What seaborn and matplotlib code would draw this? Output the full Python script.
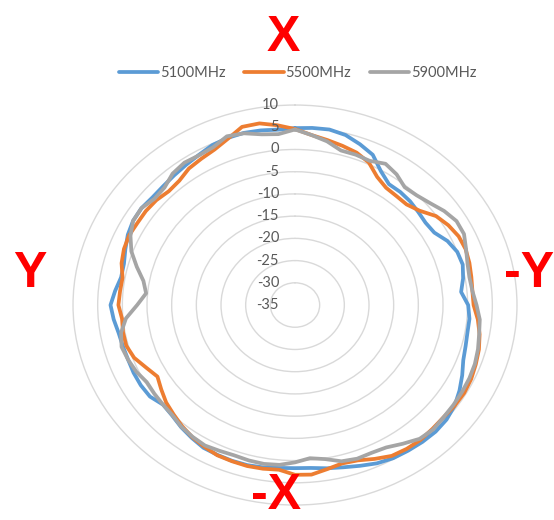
import numpy as np
import pandas as pd
import matplotlib
matplotlib.use('Agg')
import matplotlib.pyplot as plt
import matplotlib.transforms as mtransforms
from matplotlib.lines import Line2D
import seaborn as sns

# angle of each measurement (deg, clockwise from X) and gain in dBi
angles = list(range(0, 360, 5))
gain_5100 = [4.8, 5.0, 5.1, 4.6, 3.5, 2.3, -0.2, -1.8, -1.8, -2.0, -2.4, -2.7,
             -2.4, -0.9, 0.0, 0.2, -0.4, -1.2, 0.1, 0.5, 0.5, 0.8, 1.3, 2.4,
             3.5, 4.5, 5.1, 5.3, 5.2, 5.0, 4.8, 4.3, 3.5, 2.8, 2.3, 1.8,
             1.7, 1.8, 2.1, 2.3, 2.3, 2.2, 2.1, 1.5, 0.9, 0.2, -0.1, 0.9,
             1.1, 1.1, 1.0, 1.1, 1.3, 1.9, 2.4, 1.6, 0.8, 0.9, 1.6, 2.4,
             2.9, 3.0, 2.7, 2.8, 3.1, 3.5, 4.0, 4.7, 5.0, 5.1, 4.9, 4.6]
gain_5500 = [4.6, 3.4, 2.7, 2.1, 1.5, 0.4, -1.7, -2.8, -3.0, -3.0, -2.0, -0.1,
             0.9, 1.6, 1.8, 1.6, 1.3, 1.1, 1.2, 2.2, 3.0, 3.6, 4.0, 4.4,
             4.6, 4.5, 4.3, 4.4, 4.6, 4.5, 4.2, 3.2, 2.2, 1.9, 2.5, 3.3,
             3.2, 2.2, 2.4, 2.5, 2.4, 2.3, 1.8, 1.3, 0.6, -0.2, -0.9, -1.9,
             -2.8, -1.7, -0.3, 0.4, 0.4, 0.2, 0.8, 0.6, 0.5, 1.4, 1.9, 2.1,
             1.9, 1.9, 1.7, 1.2, 1.5, 2.5, 3.0, 3.6, 4.8, 6.5, 6.5, 5.6]
gain_5900 = [4.5, 3.4, 2.4, 1.0, 1.0, 0.8, 1.7, 0.9, -0.4, -0.1, 0.7, 1.9,
             2.8, 2.8, 1.9, 1.2, 0.9, 1.1, 1.8, 2.6, 2.9, 3.4, 3.8, 4.0,
             4.1, 4.2, 4.3, 4.6, 4.3, 3.1, 2.0, 1.7, 1.8, 1.4, 0.2, -0.4,
             0.4, 1.1, 1.3, 1.2, 1.0, 1.2, 1.5, 1.2, 0.8, 0.1, -0.1, -0.2,
             -0.3, 0.5, 1.0, 1.4, 0.8, -0.6, -3.0, -4.7, -3.8, -1.8, 0.3, 1.8,
             2.9, 3.0, 2.2, 2.4, 3.6, 4.1, 3.9, 4.2, 5.4, 5.0, 4.0, 3.6]

freqs = ['5100MHz', '5500MHz', '5900MHz']
colors = ['#5B9BD5', '#ED7D31', '#A5A5A5']
r_ticks = [10, 5, 0, -5, -10, -15, -20, -25, -30, -35]

rows = []
for f, vals in zip(freqs, [gain_5100, gain_5500, gain_5900]):
    # close the loop back to the first angle
    for a, v in zip(angles + [360], vals + vals[:1]):
        rows.append({'theta': np.deg2rad(a), 'gain': v, 'freq': f})
df = pd.DataFrame(rows)

sns.set_theme(style='white')
plt.rcParams['font.family'] = ['Lato', 'DejaVu Sans']

fig = plt.figure(figsize=(5.54, 5.2), dpi=100)
ax = fig.add_axes([0.1318, 0.0288, 0.8014, 0.7692], projection='polar')
ax.set_aspect('auto')
ax.set_theta_zero_location('N')
ax.set_theta_direction(-1)

sns.lineplot(data=df, x='theta', y='gain', hue='freq', palette=colors,
             sort=False, estimator=None, lw=2.7, legend=False, ax=ax)

ax.set_ylim(-35, 10)
ax.set_yticks([t for t in r_ticks if -35 < t < 10])
ax.set_yticklabels([])
ax.set_xticks([])
ax.yaxis.grid(True, color='#D9D9D9', lw=1)
ax.spines['polar'].set_color('#D9D9D9')
ax.spines['polar'].set_linewidth(1)
ax.set_xlabel('')
ax.set_ylabel('')

off = mtransforms.offset_copy(ax.transData, fig=fig, x=-16, y=0, units='dots')
for t in r_ticks:
    ax.text(0, t, str(t), transform=off, ha='right', va='center',
            fontsize=10.5, color='#595959')

handles = [Line2D([], [], color=c, lw=2.7) for c in colors]
fig.legend(handles, freqs, loc='center', bbox_to_anchor=(0.537, 0.86), ncol=3,
           frameon=False, handlelength=2.7, handletextpad=0.1, columnspacing=1.3,
           fontsize=10.5, labelcolor='#595959')

lab = dict(color='#FF0000', fontsize=36, fontweight='bold',
           family=['Liberation Sans', 'DejaVu Sans'], ha='center')
fig.text(0.511, 0.902, 'X', va='baseline', **lab)
fig.text(0.054, 0.448, 'Y', va='baseline', **lab)
fig.text(0.955, 0.448, '-Y', va='baseline', **lab)
fig.text(0.498, 0.001, '-X', va='bottom', **lab)

fig.savefig('out.png', dpi=100)
